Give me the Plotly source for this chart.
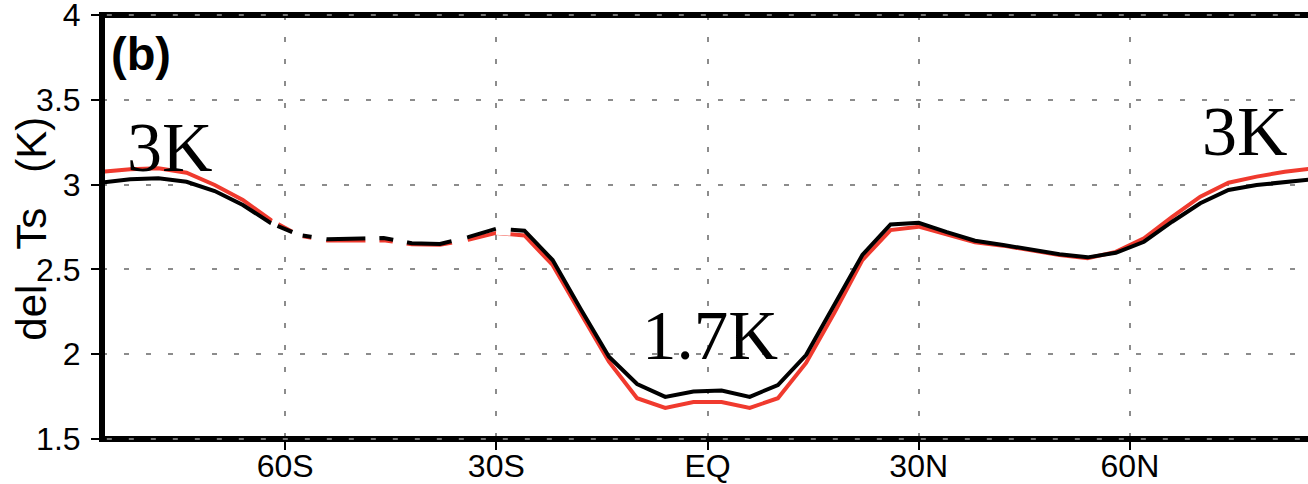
import plotly.graph_objects as go

lat = [-86, -82, -78, -74, -70, -66, -62, -58, -54, -50, -46, -42, -38, -34, -30, -26,
       -22, -18, -14, -10, -6, -2, 2, 6, 10, 14, 18, 22, 26, 30, 34, 38, 42, 46, 50, 54,
       58, 62, 66, 70, 74, 78, 82, 86]

black_ts = [3.013, 3.031, 3.037, 3.017, 2.962, 2.880, 2.772, 2.703, 2.678, 2.683, 2.685,
            2.654, 2.650, 2.690, 2.740, 2.728, 2.555, 2.265, 1.985, 1.824, 1.748, 1.780,
            1.785, 1.748, 1.818, 1.995, 2.290, 2.585, 2.765, 2.775, 2.720, 2.669, 2.644,
            2.618, 2.589, 2.571, 2.598, 2.663, 2.781, 2.890, 2.968, 2.998, 3.015, 3.031]

red_ts = [3.076, 3.090, 3.096, 3.070, 2.998, 2.910, 2.790, 2.700, 2.670, 2.670, 2.672,
          2.648, 2.645, 2.675, 2.715, 2.700, 2.526, 2.240, 1.956, 1.740, 1.683, 1.718,
          1.718, 1.683, 1.740, 1.948, 2.243, 2.555, 2.732, 2.752, 2.705, 2.660, 2.640,
          2.610, 2.585, 2.566, 2.603, 2.683, 2.810, 2.929, 3.011, 3.047, 3.076, 3.096]

x_tickvals = [-60, -30, 0, 30, 60]
x_ticktext = ["60S", "30S", "EQ", "30N", "60N"]
y_tickvals = [1.5, 2, 2.5, 3, 3.5, 4]
y_ticktext = ["1.5", "2", "2.5", "3", "3.5", "4"]

# segment of the curve where the original picture shows white breaks
gap_lo, gap_hi = -62, -26
gap_x = [v for v in lat if gap_lo <= v <= gap_hi]
gap_y = [b for v, b in zip(lat, black_ts) if gap_lo <= v <= gap_hi]

fig = go.Figure()
fig.add_trace(go.Scatter(x=lat, y=red_ts, mode="lines",
                         line=dict(color="#f03a2e", width=4), hoverinfo="skip"))
fig.add_trace(go.Scatter(x=lat, y=black_ts, mode="lines",
                         line=dict(color="#000000", width=4), hoverinfo="skip"))
fig.add_trace(go.Scatter(x=gap_x, y=gap_y, mode="lines",
                         line=dict(color="#ffffff", width=12,
                                   dash="7px,16px,11px,9px,15px,39px,14px,14px,14px,45px,16px,30px,15px,600px"),
                         hoverinfo="skip"))

sans = "Liberation Sans, Arial, sans-serif"
serif = "Liberation Serif, Times New Roman, serif"
tick_font = dict(family=sans, size=32, color="#000000")
grid_dash = "5px,17px"

frame = dict(color="#000000", width=6)
frame_dots = dict(color="#9a9a9a", width=1.5, dash=grid_dash)

fig.update_layout(
    width=1308, height=484,
    margin=dict(l=102, r=0, t=15, b=45, autoexpand=False),
    paper_bgcolor="#ffffff", plot_bgcolor="#ffffff",
    showlegend=False,
    xaxis=dict(range=[-86.01, 85.30], tickvals=x_tickvals, ticktext=x_ticktext,
               showline=False, ticks="outside", ticklen=10, tickwidth=2, tickcolor="#000000",
               showgrid=True, gridcolor="#8c8c8c", gridwidth=2, griddash=grid_dash,
               zeroline=False, tickfont=tick_font, fixedrange=True, automargin=False,
               ticklabelstandoff=-11, ticklabeloverflow="allow"),
    yaxis=dict(range=[1.4995, 4.0005], tickvals=y_tickvals, ticktext=y_ticktext,
               showline=False, ticks="outside", ticklen=10, tickwidth=2, tickcolor="#000000",
               showgrid=True, gridcolor="#8c8c8c", gridwidth=2, griddash=grid_dash,
               zeroline=False, tickfont=tick_font, fixedrange=True, automargin=False,
               ticklabelstandoff=4, ticklabeloverflow="allow"),
    shapes=[
        dict(type="line", xref="paper", yref="paper", x0=0, x1=1, y0=1, y1=1, line=frame, layer="above"),
        dict(type="line", xref="paper", yref="paper", x0=0, x1=1, y0=0, y1=0, line=frame, layer="above"),
        dict(type="line", xref="paper", yref="paper", x0=0, x1=0, y0=-0.007, y1=1.007, line=frame, layer="above"),
        dict(type="line", xref="paper", yref="paper", x0=0.004, x1=1, y0=1, y1=1, line=frame_dots, layer="above"),
        dict(type="line", xref="paper", yref="paper", x0=0.004, x1=1, y0=0, y1=0, line=frame_dots, layer="above"),
    ],
    annotations=[
        dict(text="<b>(b)</b>", x=-80.4, y=3.772, xref="x", yref="y", showarrow=False,
             xanchor="center", yanchor="middle",
             font=dict(family=sans, size=47, color="#000000")),
        dict(text="3K", x=-76.3, y=3.22, xref="x", yref="y", showarrow=False,
             xanchor="center", yanchor="middle",
             font=dict(family=serif, size=70, color="#000000")),
        dict(text="1.7K", x=0.4, y=2.107, xref="x", yref="y", showarrow=False,
             xanchor="center", yanchor="middle",
             font=dict(family=serif, size=69, color="#000000")),
        dict(text="3K", x=76.4, y=3.312, xref="x", yref="y", showarrow=False,
             xanchor="center", yanchor="middle",
             font=dict(family=serif, size=70, color="#000000")),
        dict(text="del\u00a0\u00a0\u00a0Ts\u00a0\u00a0\u00a0(K)", x=0, xref="paper", xshift=-70,
             y=2.74, yref="y", textangle=-90, showarrow=False,
             xanchor="center", yanchor="middle",
             font=dict(family=sans, size=42, color="#000000")),
    ],
)

fig.write_html("out.html")
